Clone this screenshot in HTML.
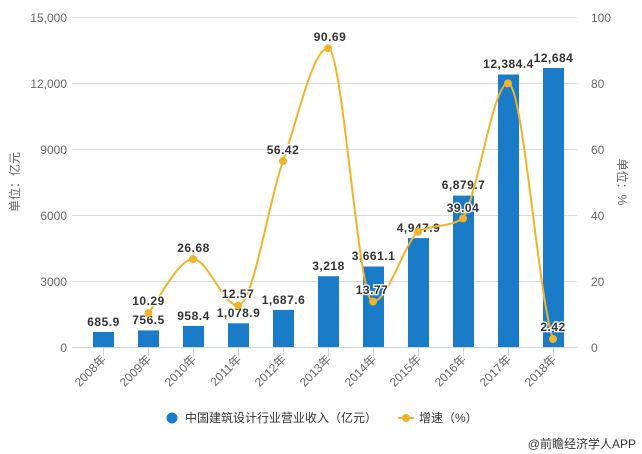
<!DOCTYPE html>
<html><head><meta charset="utf-8"><style>
body{margin:0;background:#fff;}
svg{display:block;font-family:"Liberation Sans","Noto Sans CJK SC",sans-serif;}
.ax{font-size:12px;fill:#666;}
.lb{font-size:12px;font-weight:bold;fill:#333;stroke:#fff;stroke-width:2.5px;paint-order:stroke;letter-spacing:0.5px;}
</style></head><body>
<svg width="642" height="454" viewBox="0 0 642 454">
<g stroke="#dcdcdc" stroke-width="1">
<line x1="72" y1="17.5" x2="577" y2="17.5"/><line x1="72" y1="83.5" x2="577" y2="83.5"/>
<line x1="72" y1="149.5" x2="577" y2="149.5"/><line x1="72" y1="215.5" x2="577" y2="215.5"/>
<line x1="72" y1="281.5" x2="577" y2="281.5"/>
</g>
<line x1="72" y1="347.5" x2="577" y2="347.5" stroke="#ccd6eb"/>
<g stroke="#ccd6eb"><line x1="103.5" y1="347" x2="103.5" y2="356"/><line x1="148.5" y1="347" x2="148.5" y2="356"/><line x1="193.5" y1="347" x2="193.5" y2="356"/><line x1="238.5" y1="347" x2="238.5" y2="356"/><line x1="283.5" y1="347" x2="283.5" y2="356"/><line x1="328.5" y1="347" x2="328.5" y2="356"/><line x1="373.5" y1="347" x2="373.5" y2="356"/><line x1="418.5" y1="347" x2="418.5" y2="356"/><line x1="463.5" y1="347" x2="463.5" y2="356"/><line x1="508.5" y1="347" x2="508.5" y2="356"/><line x1="553.5" y1="347" x2="553.5" y2="356"/></g>
<g class="ax" text-anchor="end">
<text x="67" y="22">15,000</text><text x="67" y="88">12,000</text><text x="67" y="154">9000</text>
<text x="67" y="220">6000</text><text x="67" y="286">3000</text><text x="67" y="352">0</text>
</g>
<g class="ax">
<text x="591" y="22">100</text><text x="591" y="88">80</text><text x="591" y="154">60</text>
<text x="591" y="220">40</text><text x="591" y="286">20</text><text x="591" y="352">0</text>
</g>
<text class="ax" transform="translate(19,182) rotate(-90)" text-anchor="middle">单位：亿元</text>
<text class="ax" transform="translate(618,182) rotate(90)" text-anchor="middle">单位：%</text>
<g fill="#1a7bc9">
<rect x="93" y="332" width="21" height="15.1"/><rect x="138" y="330.4" width="21" height="16.6"/>
<rect x="183" y="325.9" width="21" height="21.1"/><rect x="228" y="323.3" width="21" height="23.7"/>
<rect x="273" y="309.9" width="21" height="37.1"/><rect x="318" y="276.2" width="21" height="70.8"/>
<rect x="363" y="266.5" width="21" height="80.5"/><rect x="408" y="238.1" width="21" height="108.9"/>
<rect x="453" y="195.6" width="21" height="151.4"/><rect x="498" y="74.5" width="21" height="272.5"/>
<rect x="543" y="68" width="21" height="279"/>
</g>
<g class="ax" text-anchor="end">
<text transform="translate(107,360) rotate(-45)">2008年</text><text transform="translate(152,360) rotate(-45)">2009年</text>
<text transform="translate(197,360) rotate(-45)">2010年</text><text transform="translate(242,360) rotate(-45)">2011年</text>
<text transform="translate(287,360) rotate(-45)">2012年</text><text transform="translate(332,360) rotate(-45)">2013年</text>
<text transform="translate(377,360) rotate(-45)">2014年</text><text transform="translate(422,360) rotate(-45)">2015年</text>
<text transform="translate(467,360) rotate(-45)">2016年</text><text transform="translate(512,360) rotate(-45)">2017年</text>
<text transform="translate(557,360) rotate(-45)">2018年</text>
</g>
<g class="lb" text-anchor="middle">
<text x="103.5" y="326">685.9</text><text x="148.5" y="324">756.5</text><text x="193.5" y="320">958.4</text>
<text x="238.5" y="317">1,078.9</text><text x="283.5" y="304">1,687.6</text><text x="328.5" y="270">3,218</text>
<text x="373.5" y="260">3,661.1</text><text x="418.5" y="232">4,947.9</text><text x="463.5" y="189">6,879.7</text>
<text x="508.5" y="68">12,384.4</text><text x="553.5" y="62">12,684</text>
</g>
<path d="M148.5,313.1 C156,304.1 178,259.1 193,259.1 C208,259.1 223,305.6 238,305.6 C253,305.6 268,204 283,161.1 C298,118.2 313,48.2 328,48.2 C343,48.2 358,301.6 373,301.6 C388,301.6 403,245.6 418,231.7 C433,224 448,228 463,218.4 C478,193.7 493,83.4 508,83.4 C523,83.4 538,296 553,339" fill="none" stroke="#f0b429" stroke-width="2"/>
<g fill="#f0b429">
<circle cx="148.5" cy="313.1" r="4"/><circle cx="193" cy="259.1" r="4"/><circle cx="238" cy="305.6" r="4"/>
<circle cx="283" cy="161.1" r="4"/><circle cx="328" cy="48.2" r="4"/><circle cx="373" cy="301.6" r="4"/>
<circle cx="418" cy="231.7" r="4"/><circle cx="463" cy="218.4" r="4"/><circle cx="508" cy="83.4" r="4"/>
<circle cx="553" cy="339" r="4"/>
</g>
<g class="lb" text-anchor="middle">
<text x="148.5" y="305">10.29</text><text x="193.5" y="252">26.68</text><text x="238" y="298">12.57</text>
<text x="283" y="154">56.42</text><text x="330" y="41">90.69</text><text x="372" y="294">13.77</text>
<text x="463" y="212">39.04</text><text x="553" y="331">2.42</text>
</g>
<circle cx="172" cy="418" r="5.5" fill="#1a7bc9"/>
<text x="185" y="422" style="font-size:12px;fill:#333">中国建筑设计行业营业收入（亿元）</text>
<line x1="398" y1="418" x2="414" y2="418" stroke="#f0b429" stroke-width="2"/>
<circle cx="406" cy="418" r="4" fill="#f0b429"/>
<text x="419" y="422" style="font-size:12px;fill:#333">增速（%）</text>
<text x="636" y="448" text-anchor="end" style="font-size:12px;fill:#333">@前瞻经济学人APP</text>
</svg>
</body></html>
